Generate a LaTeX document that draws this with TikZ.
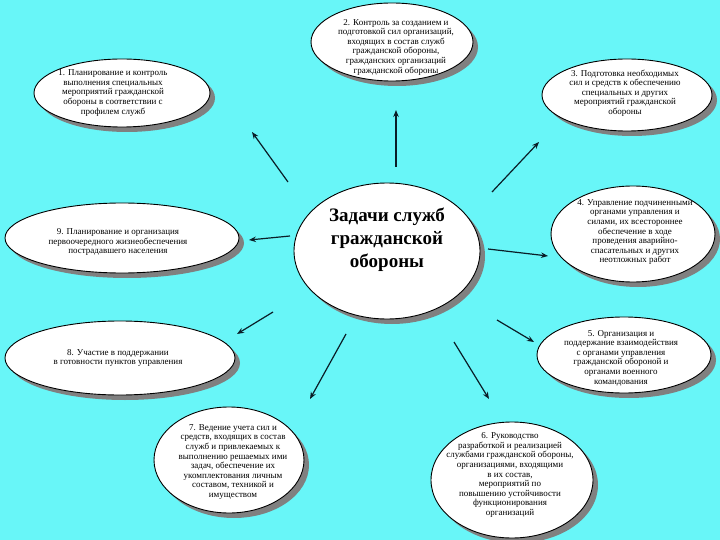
\documentclass[tikz,border=0pt]{standalone}
\usepackage{fontspec}
\setmainfont{Liberation Serif}
\usetikzlibrary{shapes.geometric,shadows,arrows.meta}
\definecolor{bgcyan}{RGB}{104,246,248}
\definecolor{shadowgray}{RGB}{128,128,128}
\definecolor{arrowdark}{RGB}{10,30,40}
\tikzset{
  oval/.style={ellipse, draw=black, line width=0.9pt, fill=white, inner sep=0pt,
    general shadow={fill=shadowgray, shadow xshift=5pt, shadow yshift=-5pt}},
  smalltext/.style={align=center, inner sep=0pt, font=\fontsize{9}{9.6}\selectfont},
  bigtext/.style={align=center, inner sep=0pt, font=\fontsize{19}{23}\selectfont\bfseries},
  arr/.style={draw=arrowdark, line width=1.2pt, -{Stealth[length=7pt,width=5.5pt]}}
}
\begin{document}
\begin{tikzpicture}[x=1pt,y=-1pt]
\fill[bgcyan] (0,0) rectangle (720,540);
\useasboundingbox (0,0) rectangle (720,540);

% ellipses
\node[oval, minimum width=162pt, minimum height=78pt] (e2) at (392,42) {};
\node[oval, minimum width=176pt, minimum height=68pt] (e1) at (122,93) {};
\node[oval, minimum width=170pt, minimum height=72pt] (e3) at (627,95) {};
\node[oval, minimum width=234pt, minimum height=70pt] (e9) at (122,238) {};
\node[oval, minimum width=164pt, minimum height=96pt] (e4) at (633,234) {};
\node[oval, minimum width=230pt, minimum height=74pt] (e8) at (120,358) {};
\node[oval, minimum width=174pt, minimum height=76pt] (e5) at (624,355) {};
\node[oval, minimum width=150pt, minimum height=106pt] (e7) at (229,460) {};
\node[oval, minimum width=162pt, minimum height=116pt] (e6) at (512,480) {};
\node[oval, minimum width=186pt, minimum height=136pt] (ec) at (387,251) {};

% texts
\node[smalltext] (t2) at (396,47) {2. Контроль за созданием и\\подготовкой сил организаций,\\входящих в состав служб\\гражданской обороны,\\гражданских организаций\\гражданской обороны};
\node[smalltext] (t1) at (113,93) {1. Планирование и контроль\\выполнения специальных\\мероприятий гражданской\\обороны в соответствии с\\профилем служб};
\node[smalltext] (t3) at (625,93) {3. Подготовка необходимых\\сил и средств к обеспечению\\специальных и других\\мероприятий гражданской\\обороны};
\node[smalltext] (t9) at (118,242) {9. Планирование и организация\\первоочередного жизнеобеспечения\\пострадавшего населения};
\node[smalltext] (t4) at (635,232) {4. Управление подчиненными\\органами управления и\\силами, их всестороннее\\обеспечение в ходе\\проведения аварийно-\\спасательных и других\\неотложных работ};
\node[smalltext] (t8) at (118,358) {8. Участие в поддержании\\в готовности пунктов управления};
\node[smalltext] (t5) at (621,358) {5. Организация и\\поддержание взаимодействия\\с органами управления\\гражданской обороной и\\органами военного\\командования};
\node[smalltext] (t7) at (233,462) {7. Ведение учета сил и\\средств, входящих в состав\\служб и привлекаемых к\\выполнению решаемых ими\\задач, обеспечение их\\укомплектования личным\\составом, техникой и\\имуществом};
\node[smalltext] (t6) at (510,475) {6. Руководство\\разработкой и реализацией\\службами гражданской обороны,\\организациями, входящими\\в их состав,\\мероприятий по\\повышению устойчивости\\функционирования\\организаций};
\node[bigtext] (tc) at (387,240) {Задачи служб\\гражданской\\обороны};

% arrow end points
\coordinate (s2) at (396,167); \coordinate (f2) at (396,110);
\coordinate (s1) at (288,182); \coordinate (f1) at (252,132);
\coordinate (s3) at (492,192); \coordinate (f3) at (539,142);
\coordinate (s9) at (290,236); \coordinate (f9) at (249,240);
\coordinate (s4) at (488,249); \coordinate (f4) at (548,256);
\coordinate (s8) at (273,312); \coordinate (f8) at (237,334);
\coordinate (s7) at (346,334); \coordinate (f7) at (310,399);
\coordinate (s6) at (454,342); \coordinate (f6) at (489,399);
\coordinate (s5) at (497,320); \coordinate (f5) at (534,342);

\draw[arr] (s2) -- (f2);
\draw[arr] (s1) -- (f1);
\draw[arr] (s3) -- (f3);
\draw[arr] (s9) -- (f9);
\draw[arr] (s4) -- (f4);
\draw[arr] (s8) -- (f8);
\draw[arr] (s7) -- (f7);
\draw[arr] (s6) -- (f6);
\draw[arr] (s5) -- (f5);
\end{tikzpicture}
\end{document}
